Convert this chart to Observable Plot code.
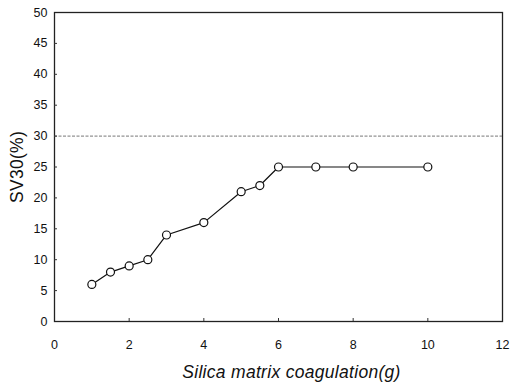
<!DOCTYPE html>
<html><head><meta charset="utf-8">
<script src="https://cdn.jsdelivr.net/npm/d3@7"></script>
<script src="https://cdn.jsdelivr.net/npm/@observablehq/plot@0.6"></script>
<style>body{margin:0;background:#fff}</style>
</head><body><div id="chart"></div>
<script>
const silica = [1, 1.5, 2, 2.5, 3, 4, 5, 5.5, 6, 7, 8, 10];
const sv30 = [6, 8, 9, 10, 14, 16, 21, 22, 25, 25, 25, 25];
const referenceLine = [30];
const xTicks = [0, 2, 4, 6, 8, 10, 12];
const yTicks = [0, 5, 10, 15, 20, 25, 30, 35, 40, 45, 50];
const xLabel = "Silica matrix coagulation(g)";
const yLabel = "SV30(%)";

const data = silica.map((x, i) => ({x, y: sv30[i]}));

const chart = Plot.plot({
  width: 511, height: 388,
  marginLeft: 54, marginRight: 9, marginTop: 12, marginBottom: 67,
  style: {fontFamily: "'Liberation Sans', Arial, sans-serif", fontSize: "12.5px", color: "#111", background: "#fff"},
  x: {domain: [0, 12]},
  y: {domain: [0, 50]},
  marks: [
    Plot.frame({stroke: "#222", strokeWidth: 1.3}),
    Plot.ruleY(referenceLine, {stroke: "#555", strokeWidth: 0.8, strokeDasharray: "3,1.5"}),
    Plot.axisX(xTicks, {tickSize: 0, tickPadding: 19, label: xLabel, labelAnchor: "center", labelArrow: "none", labelOffset: 56, fontSize: 12.5}),
    Plot.axisX(xTicks.slice(1, -1), {tickSize: -3, text: null, label: null, stroke: "#333"}),
    Plot.axisY(yTicks, {tickSize: 0, tickPadding: 7, label: yLabel, labelAnchor: "center", labelArrow: "none", labelOffset: 44, fontSize: 12.5}),
    Plot.axisY(yTicks.slice(1, -1), {tickSize: -3, text: null, label: null, stroke: "#333"}),
    Plot.line(data, {x: "x", y: "y", stroke: "#111", strokeWidth: 1.2}),
    Plot.dot(data, {x: "x", y: "y", r: 4, stroke: "#111", strokeWidth: 1.2, fill: "#fff"})
  ]
});
chart.querySelectorAll('[aria-label="x-axis label"] text').forEach(t => {
  t.style.fontStyle = "italic"; t.style.fontSize = "17.5px"; t.style.letterSpacing = "0.3px";
  t.setAttribute("dx", "13");
});
chart.querySelectorAll('[aria-label="y-axis label"] text').forEach(t => {
  t.style.fontSize = "17.5px"; t.style.letterSpacing = "0.3px";
});
document.getElementById("chart").appendChild(chart);
</script>
</body></html>
